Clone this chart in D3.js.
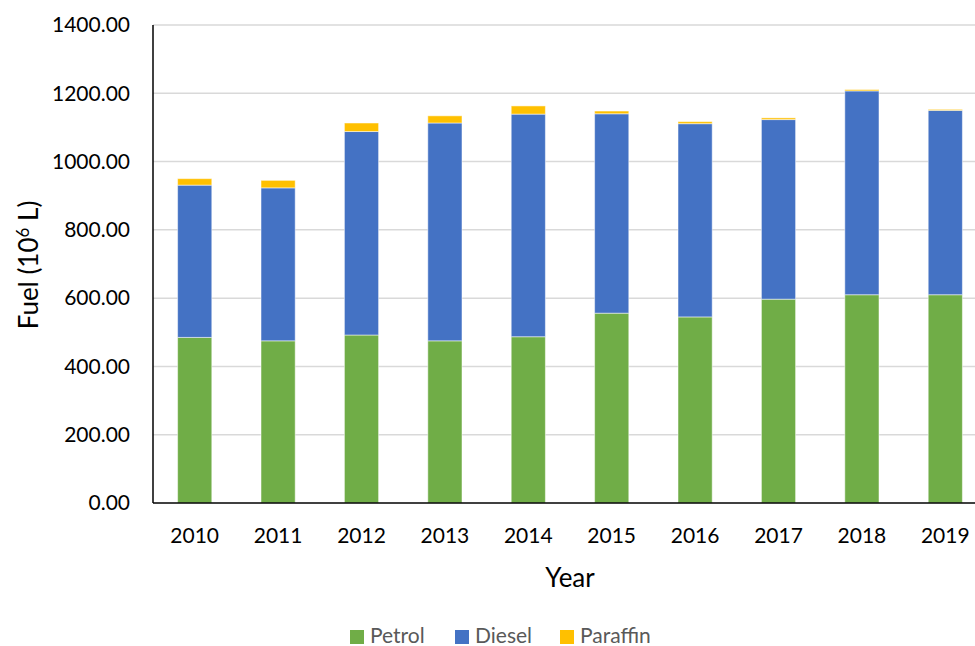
<!DOCTYPE html>
<html>
<head>
<meta charset="utf-8">
<script src="https://cdn.jsdelivr.net/npm/d3@7"></script>
<style>
  body { margin: 0; background: #fff; }
  svg { display: block; font-family: Lato, "Open Sans", sans-serif; }
</style>
</head>
<body>
<svg id="chart"></svg>
<script>
const years = ['2010', '2011', '2012', '2013', '2014', '2015', '2016', '2017', '2018', '2019'];
const petrol = [485, 475, 492, 475, 487, 556, 545, 597, 610, 610];
const diesel = [446, 448, 596, 638, 652, 584, 566, 526, 597, 540];
const paraffin = [19, 22, 25, 21, 24, 8, 6, 5, 4, 3];
const seriesNames = ['Petrol', 'Diesel', 'Paraffin'];
const colors = ['#70ad47', '#4472c4', '#ffc000'];
const yTicks = [0, 200, 400, 600, 800, 1000, 1200, 1400];

const width = 975, height = 646;
const svg = d3.select('#chart').attr('width', width).attr('height', height);

const x = d3.scaleBand().domain(years).range([153, 987]).paddingInner(0.59).paddingOuter(0.295);
const y = d3.scaleLinear().domain([0, 1400]).range([503, 25]);

const table = years.map((yr, i) => ({ year: yr, Petrol: petrol[i], Diesel: diesel[i], Paraffin: paraffin[i] }));
const stacked = d3.stack().keys(seriesNames)(table);

// gridlines
svg.append('g').selectAll('line').data(yTicks.slice(1)).enter().append('line')
    .attr('x1', 153).attr('x2', width).attr('y1', d => y(d)).attr('y2', d => y(d))
    .attr('stroke', '#d9d9d9').attr('stroke-width', 1.5);

// bars
svg.append('g').selectAll('g').data(stacked).enter().append('g')
    .attr('fill', (d, i) => colors[i])
    .selectAll('rect').data(d => d).enter().append('rect')
    .attr('x', d => x(d.data.year))
    .attr('width', x.bandwidth())
    .attr('y', d => y(d[1]))
    .attr('height', d => y(d[0]) - y(d[1]))
    .attr('stroke', 'rgba(255,255,255,0.5)').attr('stroke-width', 1);

// axes lines
svg.append('line').attr('x1', 153).attr('x2', 153).attr('y1', 25).attr('y2', y(0))
    .attr('stroke', '#000').attr('stroke-width', 1.5);
svg.append('line').attr('x1', 153).attr('x2', width).attr('y1', y(0)).attr('y2', y(0))
    .attr('stroke', '#000').attr('stroke-width', 1.5);

// y tick labels
svg.append('g').selectAll('text').data(yTicks).enter().append('text')
    .attr('x', 130).attr('y', d => y(d)).attr('dy', '0.35em')
    .attr('text-anchor', 'end').attr('font-size', 21).attr('fill', '#000')
    .text(d => d3.format('.2f')(d));

// x tick labels
svg.append('g').selectAll('text').data(years).enter().append('text')
    .attr('x', d => x(d) + x.bandwidth() / 2).attr('y', 543)
    .attr('text-anchor', 'middle').attr('font-size', 21).attr('fill', '#000')
    .text(d => d);

// axis titles
svg.append('text').attr('x', 570).attr('y', 587).attr('text-anchor', 'middle')
    .attr('font-size', 26).attr('fill', '#000').text('Year');
const yTitle = svg.append('text').attr('transform', 'translate(38,265) rotate(-90)')
    .attr('text-anchor', 'middle').attr('font-size', 26).attr('fill', '#000');
yTitle.append('tspan').text('Fuel (10');
yTitle.append('tspan').attr('font-size', 17).attr('dy', -9).text('6');
yTitle.append('tspan').attr('dy', 9).text(' L)');

// legend
const legendX = [350, 455, 560];
const legend = svg.append('g').selectAll('g').data(seriesNames).enter().append('g')
    .attr('transform', (d, i) => `translate(${legendX[i]},630)`);
legend.append('rect').attr('width', 14).attr('height', 14).attr('fill', (d, i) => colors[i]);
legend.append('text').attr('x', 20).attr('y', 13)
    .attr('font-size', 21).attr('fill', '#595959').text(d => d);
</script>
</body>
</html>
